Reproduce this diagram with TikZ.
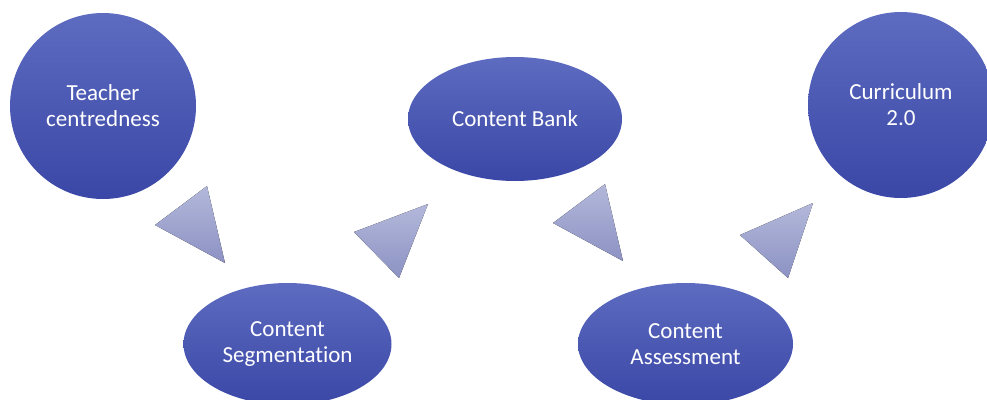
\documentclass[tikz,border=0pt]{standalone}
\usepackage{fontspec}
\setmainfont{Carlito}[Ligatures=NoCommon]
\usetikzlibrary{shapes.geometric}
\definecolor{blobtop}{HTML}{5D6BC0}
\definecolor{blobbot}{HTML}{3B47A6}
\definecolor{tritop}{HTML}{B3B8DA}
\definecolor{tribot}{HTML}{8C92C3}
\tikzset{
  blob/.style={ellipse, inner sep=0pt, top color=blobtop, bottom color=blobbot,
    draw=none, text=white, align=center,
    font=\fontsize{23}{26}\selectfont},
  pointer/.style={top color=tritop, bottom color=tribot, draw=none}
}
\begin{document}
\begin{tikzpicture}[x=1pt,y=-1pt]
\useasboundingbox (0,0) rectangle (987,399);
\clip (0,0) rectangle (987,399);
% stages
\node[blob, minimum width=186pt, minimum height=186pt] (teacher) at (103,106) {Teacher\\centredness};
\node[blob, minimum width=214pt, minimum height=124pt] (bank) at (515,119) {Content Bank};
\node[blob, minimum width=186pt, minimum height=186pt] (curr) at (901,105) {Curriculum\\2.0};
\node[blob, minimum width=208pt, minimum height=122pt] (seg) at (287.5,344) {Content\\Segmentation};
\node[blob, minimum width=215pt, minimum height=122pt] (assess) at (685.5,344) {Content\\Assessment};
% triangular pointers between stages
\fill[pointer] (155,225) -- (207,186) -- (225,263) -- cycle;
\fill[pointer] (354,232) -- (428,204) -- (399,278) -- cycle;
\fill[pointer] (553,223) -- (605,184) -- (623,261) -- cycle;
\fill[pointer] (740,235) -- (813,203) -- (788,278) -- cycle;
\end{tikzpicture}
\end{document}
